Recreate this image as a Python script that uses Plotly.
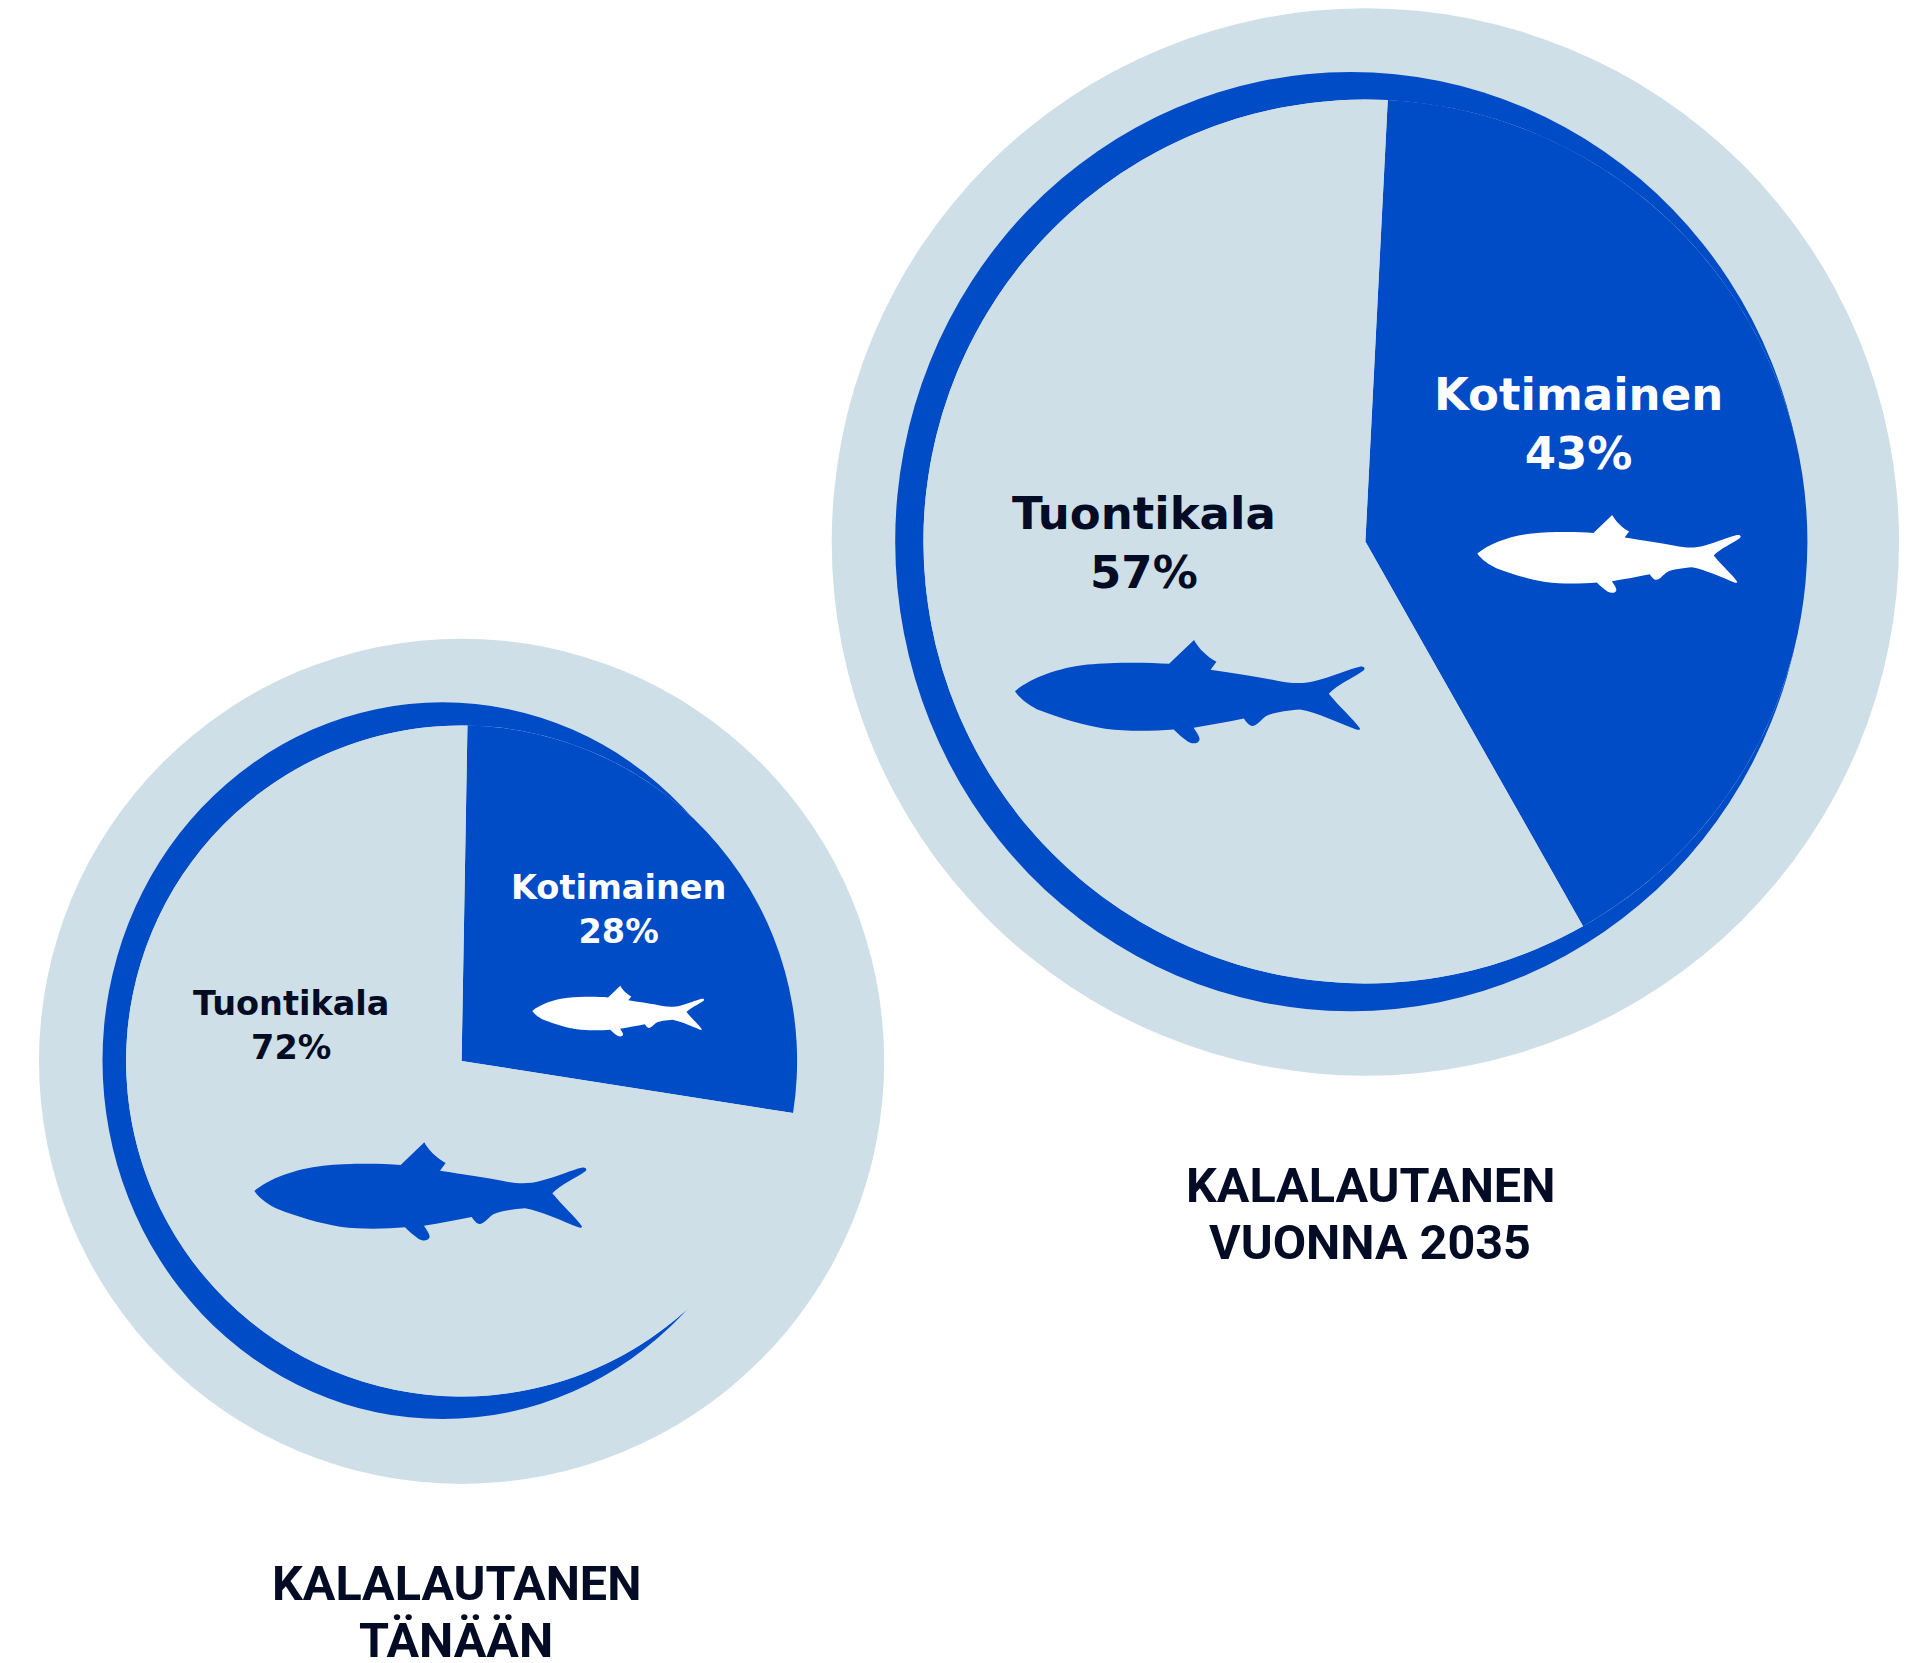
import plotly.graph_objects as go

W, H = 1915, 1663
BLUE, PALE, INK = "#004bc6", "#cfdfe8", "#030c24"

# Data
categories = ["Kotimainen", "Tuontikala"]
printed_today = [28, 72]      # percentages printed on the chart
printed_2035 = [43, 57]
# share of the circle each wedge actually covers in the picture
drawn_today = [27.2, 72.8]
drawn_2035 = [41.0, 59.0]
titles_today = ["KALALAUTANEN", "TÄNÄÄN"]
titles_2035 = ["KALALAUTANEN", "VUONNA 2035"]

# Fish silhouette (decorative outline): start point, then L/C segments
FISH_START = (43, 183)
FISH_SEGMENTS = [
    [(85, 147), (165, 116), (250, 107)],
    [(320, 100), (420, 100), (482, 105)],
    [(553, 37)],
    [(565, 60), (590, 85), (617, 99)],
    [(600, 122)],
    [(670, 133), (740, 143), (790, 153)],
    [(830, 162), (870, 162), (900, 153)],
    [(950, 140), (1000, 118), (1025, 113)],
    [(1038, 111), (1042, 118), (1036, 124)],
    [(1010, 143), (960, 165), (937, 190)],
    [(965, 225), (1005, 260), (1025, 288)],
    [(1028, 293), (1022, 294), (1015, 292)],
    [(970, 275), (900, 242), (855, 235)],
    [(820, 238), (780, 243), (760, 253)],
    [(745, 262), (735, 280), (720, 282)],
    [(710, 283), (700, 268), (695, 261)],
    [(650, 270), (600, 280), (552, 287)],
    [(560, 300), (572, 315), (568, 323)],
    [(563, 333), (548, 334), (535, 326)],
    [(520, 316), (505, 302), (495, 292)],
    [(440, 296), (370, 299), (300, 290)],
    [(240, 281), (170, 259), (115, 238)],
    [(88, 227), (58, 205), (43, 183)],
]


def fx(px):
    return px / W


def fy(py):
    return 1 - py / H


def fish_path(x0, y0, s):
    def P(p):
        return f"{fx(x0 + p[0] * s):.6f},{fy(y0 + p[1] * s):.6f}"
    d = "M" + P(FISH_START)
    for seg in FISH_SEGMENTS:
        d += (" L" if len(seg) == 1 else " C") + " ".join(P(p) for p in seg)
    return d + " Z"


def ellipse(cx, cy, rx, ry, color):
    return dict(type="circle", xref="paper", yref="paper", layer="below",
                x0=fx(cx - rx), x1=fx(cx + rx), y0=fy(cy + ry), y1=fy(cy - ry),
                fillcolor=color, line_width=0)


def fish(x0, y0, s, color):
    return dict(type="path", xref="paper", yref="paper", layer="above",
                path=fish_path(x0, y0, s), fillcolor=color, line_width=0)


def pie(values, cx, cy, r, rot):
    return go.Pie(labels=categories, values=values, sort=False, direction="clockwise",
                  rotation=rot, textinfo="none", showlegend=False,
                  marker=dict(colors=[BLUE, PALE], line=dict(width=0)),
                  domain=dict(x=[fx(cx - r), fx(cx + r)], y=[fy(cy + r), fy(cy - r)]))


def note(text, px, py, size, color, family, weight=700):
    return dict(text=text, xref="paper", yref="paper", x=fx(px), y=fy(py),
                xanchor="center", yanchor="middle", showarrow=False, align="center",
                font=dict(family=family, size=size, color=color, weight=weight))


LABEL_FONT = "DejaVu Sans"
TITLE_FONT = "Roboto"

fig = go.Figure()
fig.add_trace(pie(drawn_today, 461.6, 1061, 335.5, 1.0))
fig.add_trace(pie(drawn_2035, 1365.4, 541.5, 442, 2.9))

shapes = [
    ellipse(461.6, 1061.3, 422.6, 422.6, PALE),
    ellipse(442.4, 1060.7, 339.9, 358.4, BLUE),
    ellipse(461.6, 1061, 335.5, 335.5, PALE),
    ellipse(1365.4, 542, 533.7, 533.7, PALE),
    ellipse(1350.7, 541.6, 455.5, 469.6, BLUE),
    ellipse(1365.4, 541.5, 442, 442, PALE),
    fish(240, 1130, 1 / 3, BLUE),
    fish(532.3 - 43 * 0.1725, 985.7 - 37 * 0.1725, 0.1725, "white"),
    fish(1015 - 43 * 0.351, 640 - 37 * 0.351, 0.351, BLUE),
    fish(1477.3 - 43 * 0.2645, 515 - 37 * 0.2645, 0.2645, "white"),
]

annotations = [
    note(f"{categories[0]}<br>{printed_today[0]}%", 618, 909.5, 33.5, "white", LABEL_FONT),
    note(f"{categories[1]}<br>{printed_today[1]}%", 291, 1025.5, 33.5, INK, LABEL_FONT),
    note(f"{categories[0]}<br>{printed_2035[0]}%", 1578, 424.5, 45, "white", LABEL_FONT),
    note(f"{categories[1]}<br>{printed_2035[1]}%", 1143.5, 543, 45, INK, LABEL_FONT),
    note(titles_today[0], 456, 1583, 48.5, INK, TITLE_FONT),
    note(titles_today[1], 456, 1640, 48.5, INK, TITLE_FONT),
    note(titles_2035[0], 1370, 1185, 48.5, INK, TITLE_FONT),
    note(titles_2035[1], 1370, 1242, 48.5, INK, TITLE_FONT),
]

fig.update_layout(width=W, height=H, margin=dict(l=0, r=0, t=0, b=0),
                  paper_bgcolor="white", plot_bgcolor="white",
                  shapes=shapes, annotations=annotations)
fig.write_html("out.html", config={"displayModeBar": False},
               post_script="document.body.style.margin='0';document.documentElement.style.overflow='hidden';")
